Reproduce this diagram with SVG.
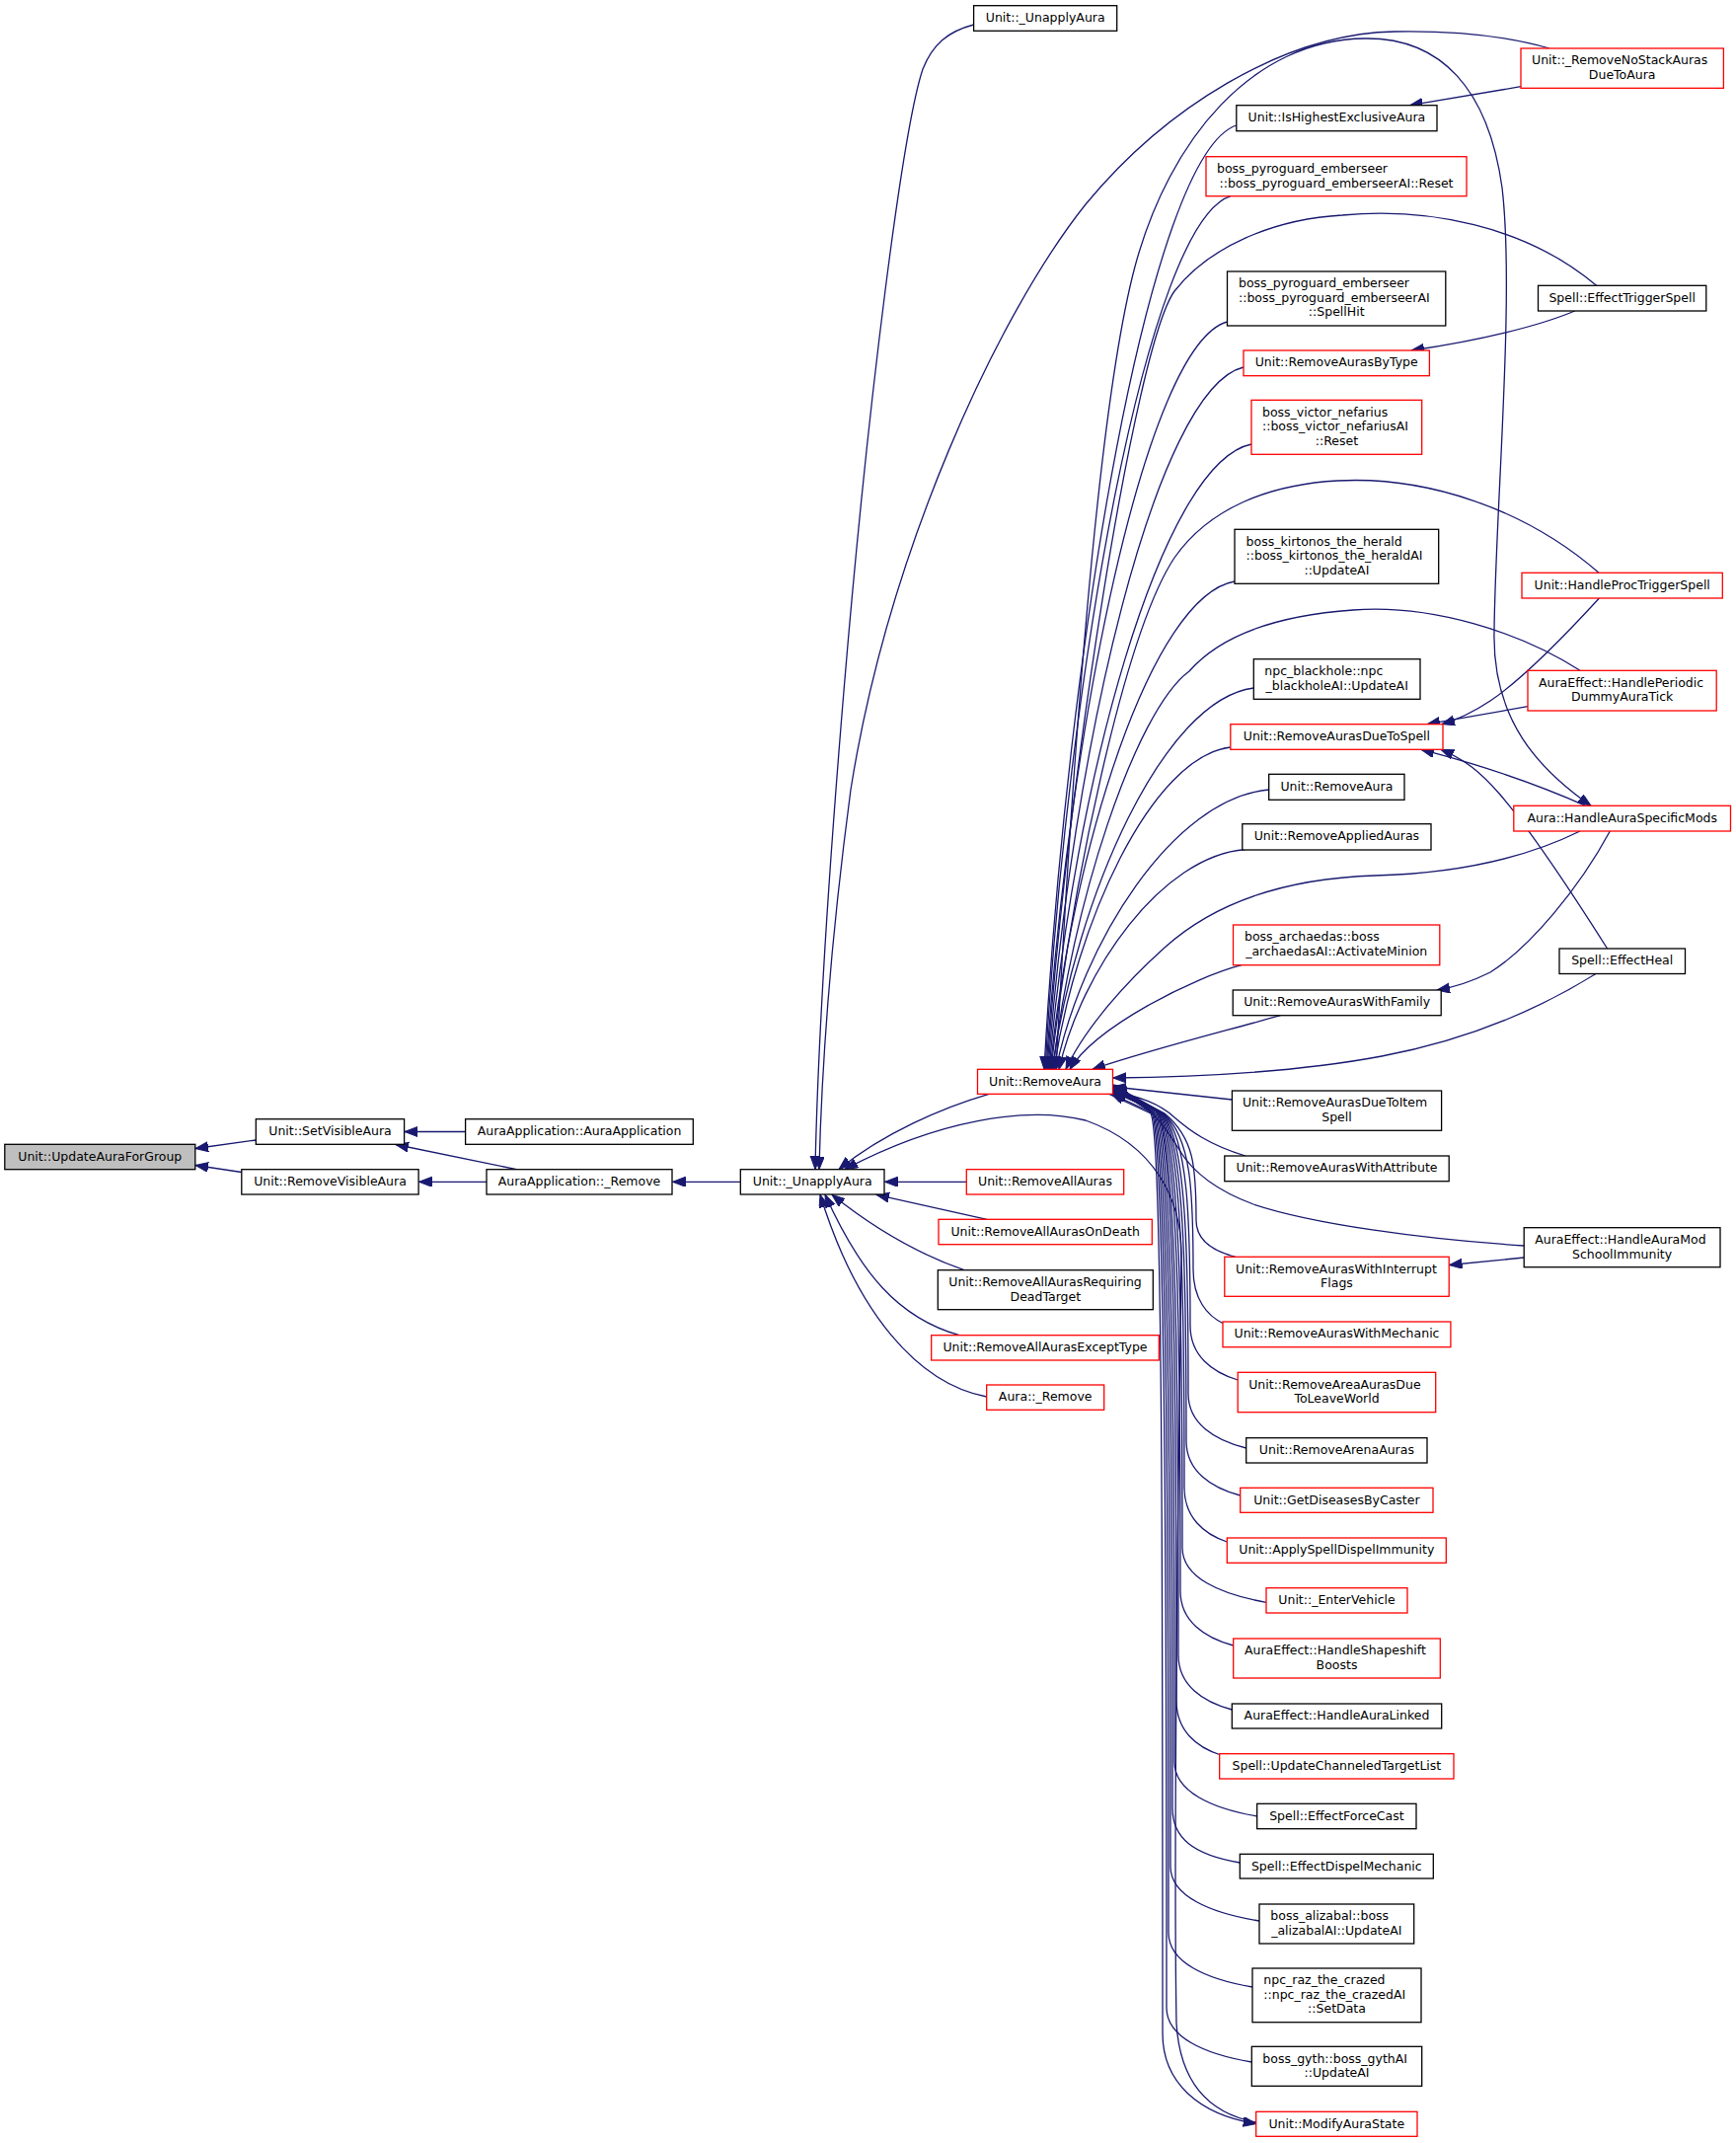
<svg xmlns="http://www.w3.org/2000/svg" width="1759" height="2171" viewBox="0 0 1759 2171">
<style>
.n rect{fill:#fff;stroke:#000;stroke-width:1.3}
.n.r rect{stroke:#f00}
.n.g rect{fill:#bfbfbf}
text{font-family:"DejaVu Sans","Liberation Sans",sans-serif;font-size:12.5px;fill:#000}
.c{text-anchor:middle}
#edges path{fill:none;stroke:#191970;stroke-width:1.3;marker-end:url(#a)}
</style>
<defs>
<marker id="a" markerUnits="userSpaceOnUse" markerWidth="14" markerHeight="11" refX="13" refY="5" orient="auto">
<path d="M0,0 L13,5 L0,10 Z" fill="#191970" stroke="#191970" stroke-width="1"/>
</marker>
</defs>
<rect width="1759" height="2171" fill="#fff"/>
<g id="edges">
<path d="M259.3,1155 L198,1163.5"/>
<path d="M244.8,1187.5 L198,1180.5"/>
<path d="M471.6,1146.5 L410,1146.5"/>
<path d="M523.5,1184.7 L401,1159.5"/>
<path d="M493,1197.3 L424.5,1197.3"/>
<path d="M750.3,1197.3 L681.5,1197.3"/>
<path d="M986.6,25 C960,32 945,45 935,70 C915,130 880,400 855,700 C840,880 829,1040 826,1184.5"/>
<path d="M1570,49 C1525,36 1470,31 1413,32 C1300,34 1180,110 1100,207 C1010,320 900,560 862,800 C846,920 833,1060 830,1184.5"/>
<path d="M1002,1108.3 C955,1122 895,1148 850,1184.5"/>
<path d="M1272.7,2150 C1230,2142 1196,2115 1192,2050 C1188,1800 1196,1400 1197,1270 C1197,1215 1170,1160 1100,1135 C1040,1120 950,1135 856,1184.5"/>
<path d="M979.3,1197.3 L896.5,1197.3"/>
<path d="M1000,1235.3 L888,1210.3"/>
<path d="M977,1286.7 C935,1272 890,1248 843,1210.3"/>
<path d="M972,1352.7 C910,1335 872,1290 836,1210.3"/>
<path d="M999.7,1415 C930,1402 868,1330 831,1210.3"/>
<path d="M1252.8,127 C1165.1,155.7 1081.4,653 1058,1083.3"/>
<path d="M1247,198.7 C1162.4,225.2 1081.6,685.3 1059,1083.3"/>
<path d="M1243.5,326 C1160.9,348.7 1082,742.5 1060,1083.3"/>
<path d="M1617.6,289.3 C1545,228 1445,210 1360,218 C1290,222 1225,250 1190,295 C1150,350 1080,800 1061,1083.3"/>
<path d="M1260,372 C1170.9,393.3 1085.8,763.3 1062,1083.3"/>
<path d="M1268,450 C1175.8,469 1087.6,798.3 1063,1083.3"/>
<path d="M1251,589 C1166.9,603.8 1086.4,860.9 1064,1083.3"/>
<path d="M1620,580.3 C1545,515 1445,482 1355,487 C1285,491 1225,515 1190,565 C1140,640 1085,900 1065,1083.3"/>
<path d="M1270.3,697 C1178.4,708.6 1090.5,909.5 1066,1083.3"/>
<path d="M1601,679.3 C1540,640 1450,612 1371,618 C1300,623 1240,640 1205,680 C1150,720 1085,920 1067,1083.3"/>
<path d="M1246.8,757 C1166.3,766.8 1089.5,936.5 1068,1083.3"/>
<path d="M1285.7,800 C1188.6,808.5 1095.9,955.8 1070,1083.3"/>
<path d="M1262,860.5 C1177,867.2 1095.7,983 1073,1083.3"/>
<path d="M1601,842 C1540,872 1470,885 1393,887 C1300,890 1230,915 1180,960 C1130,1005 1095,1050 1080,1083.3"/>
<path d="M1258,977.7 C1210,990 1110,1040 1084,1083.3"/>
<path d="M1297.5,1028.7 C1240,1045 1170,1062 1107,1083.3"/>
<path d="M1617,986.5 C1555,1025 1480,1055 1400,1070 C1320,1085 1220,1091 1128,1092"/>
<path d="M1544.2,1262 C1440,1255 1330,1240 1270,1220 C1235,1207 1210,1190 1195,1165 C1180,1140 1165,1117 1128,1107.5"/>
<path d="M1248.4,1114 L1128,1101"/>
<path d="M1262,1171 C1225,1160 1205,1145 1190,1132 C1175,1118 1155,1111 1128,1106"/>
<path d="M1541,87.7 L1428.5,106.7"/>
<path d="M1595.7,315 C1560,330 1500,345 1430,355"/>
<path d="M1620.4,606 C1580,650 1540,690 1510,710 C1495,720 1480,728 1461,733.7"/>
<path d="M1548,715.7 L1446,733.7"/>
<path d="M1606.7,816.3 C1570,800 1520,780 1440,759.3"/>
<path d="M1628.6,961 C1590,900 1550,840 1520,805 C1500,782 1485,770 1460,759.3"/>
<path d="M1631.3,842 C1600,900 1550,960 1510,985 C1490,995 1475,1000 1456,1003"/>
<path d="M1544.2,1274 L1468.5,1281.5"/>
<path d="M1070,1083.3 C1085,800 1110,420 1150,270 C1185,140 1270,40 1383,39 C1460,38 1508,90 1522,190 C1535,300 1515,520 1514,640 C1512,730 1560,780 1612,816.3"/>
<path d="M1252,1273.3 C1230,1267.8 1212,1256.6 1212,1236.3 C1212,1182 1210,1153 1180,1128 L1129,1106"/>
<path d="M1240,1341 C1223,1333 1209,1316 1209,1286 C1209,1207 1207,1153 1179,1128 L1128,1105"/>
<path d="M1254.2,1398 C1227.7,1390 1206,1373 1206,1343 C1206,1235 1204,1153 1178,1127 L1128,1104"/>
<path d="M1262.7,1467 C1230.4,1459 1204,1442 1204,1412 C1204,1270 1202,1152 1177,1127 L1128,1103"/>
<path d="M1256.7,1515 C1226.6,1507 1202,1490 1202,1460 C1202,1294 1200,1152 1176,1126 L1128,1102"/>
<path d="M1243.3,1562 C1219.5,1554 1200,1537 1200,1507 C1200,1317 1198,1151 1175,1126 L1128,1101"/>
<path d="M1283,1623.3 C1236,1615 1198,1598 1198,1568 C1198,1347 1196,1151 1174,1125 L1128,1100"/>
<path d="M1249.7,1667 C1220,1659 1196,1642 1196,1612 C1196,1369 1194,1150 1173,1125 L1128,1100"/>
<path d="M1248.3,1732 C1218.4,1724 1194,1707 1194,1677 C1194,1401 1192,1150 1172,1124 L1128,1099"/>
<path d="M1237,1778 C1212,1770 1192,1753 1192,1723 C1192,1424 1190,1150 1172,1126 L1128,1106"/>
<path d="M1273.7,1840 C1227.7,1832 1190,1815 1190,1785 C1190,1456 1188,1150 1171,1126 L1128,1105"/>
<path d="M1256.3,1887 C1209,1879 1188,1862 1188,1832 C1188,1479 1186,1150 1170,1127 L1128,1104"/>
<path d="M1276,1946 C1226.5,1938 1186,1921 1186,1891 C1186,1509 1184,1151 1169,1127 L1128,1103"/>
<path d="M1269,2013 C1222,2005 1184,1988 1184,1958 C1184,1542 1182,1151 1168,1127 L1128,1102"/>
<path d="M1268.3,2089 C1220.8,2081 1182,2064 1182,2034 C1182,1580 1180,1151 1167,1127 L1126,1108"/>
<path d="M1124,1108.3 L1166,1128 C1178,1150 1178,1600 1178,2060 C1178,2110 1215,2142 1272.7,2151.5"/>
</g>
<g id="n0" class="n g"><rect x="4.8" y="1159.3" width="193" height="25.4"/><text class="c" x="101.3" y="1175.8">Unit::UpdateAuraForGroup</text></g>
<g id="n1" class="n"><rect x="259.3" y="1133.7" width="150.3" height="25.6"/><text class="c" x="334.5" y="1150.1">Unit::SetVisibleAura</text></g>
<g id="n2" class="n"><rect x="471.6" y="1133.7" width="230.7" height="25.6"/><text class="c" x="587" y="1150.1">AuraApplication::AuraApplication</text></g>
<g id="n3" class="n"><rect x="244.8" y="1184.7" width="179.3" height="25.3"/><text class="c" x="334.5" y="1201.1">Unit::RemoveVisibleAura</text></g>
<g id="n4" class="n"><rect x="493" y="1184.7" width="188" height="25.3"/><text class="c" x="587" y="1201.1">AuraApplication::_Remove</text></g>
<g id="n5" class="n"><rect x="750.3" y="1184.7" width="145.7" height="25.3"/><text class="c" x="823.2" y="1201.1">Unit::_UnapplyAura</text></g>
<g id="n6" class="n"><rect x="986.6" y="5.7" width="145.1" height="25.6"/><text class="c" x="1059.2" y="22.1">Unit::_UnapplyAura</text></g>
<g id="n7" class="n r"><rect x="990.5" y="1083.3" width="137" height="25"/><text class="c" x="1059" y="1099.7">Unit::RemoveAura</text></g>
<g id="n8" class="n r"><rect x="979.3" y="1184.7" width="159.4" height="25.3"/><text class="c" x="1059" y="1201.1">Unit::RemoveAllAuras</text></g>
<g id="n9" class="n r"><rect x="951" y="1235.3" width="216.3" height="25.4"/><text class="c" x="1059.2" y="1251.7">Unit::RemoveAllAurasOnDeath</text></g>
<g id="n10" class="n"><rect x="950.3" y="1286.7" width="218" height="40"/><text x="961.3" y="1303.1">Unit::RemoveAllAurasRequiring</text><text class="c" x="1059.3" y="1317.6">DeadTarget</text></g>
<g id="n11" class="n r"><rect x="943.7" y="1352.7" width="230.6" height="25.3"/><text class="c" x="1059" y="1369.1">Unit::RemoveAllAurasExceptType</text></g>
<g id="n12" class="n r"><rect x="999.7" y="1403" width="119" height="25.3"/><text class="c" x="1059.2" y="1419.4">Aura::_Remove</text></g>
<g id="n13" class="n r"><rect x="1541" y="49" width="205.4" height="40.3"/><text x="1552" y="65.4">Unit::_RemoveNoStackAuras</text><text class="c" x="1643.7" y="79.9">DueToAura</text></g>
<g id="n14" class="n"><rect x="1252.8" y="106.7" width="203.2" height="26"/><text class="c" x="1354.4" y="123.1">Unit::IsHighestExclusiveAura</text></g>
<g id="n15" class="n r"><rect x="1222" y="158.7" width="264" height="40"/><text x="1233" y="175.1">boss_pyroguard_emberseer</text><text class="c" x="1354" y="189.6">::boss_pyroguard_emberseerAI::Reset</text></g>
<g id="n16" class="n"><rect x="1243.5" y="275" width="221.3" height="55"/><text x="1255" y="291.4">boss_pyroguard_emberseer</text><text x="1255" y="305.9">::boss_pyroguard_emberseerAI</text><text class="c" x="1354.2" y="320.4">::SpellHit</text></g>
<g id="n17" class="n"><rect x="1558.5" y="289.3" width="170.3" height="25.7"/><text class="c" x="1643.7" y="305.7">Spell::EffectTriggerSpell</text></g>
<g id="n18" class="n r"><rect x="1260" y="355" width="188.4" height="25.7"/><text class="c" x="1354.2" y="371.4">Unit::RemoveAurasByType</text></g>
<g id="n19" class="n r"><rect x="1268" y="405.3" width="172.7" height="55"/><text x="1279" y="421.7">boss_victor_nefarius</text><text x="1279" y="436.2">::boss_victor_nefariusAI</text><text class="c" x="1354.4" y="450.7">::Reset</text></g>
<g id="n20" class="n"><rect x="1251" y="536.3" width="206.7" height="55"/><text x="1262.6" y="552.7">boss_kirtonos_the_herald</text><text x="1262.6" y="567.2">::boss_kirtonos_the_heraldAI</text><text class="c" x="1354.4" y="581.7">::UpdateAI</text></g>
<g id="n21" class="n r"><rect x="1542" y="580.3" width="203.3" height="25.7"/><text class="c" x="1643.7" y="596.7">Unit::HandleProcTriggerSpell</text></g>
<g id="n22" class="n r"><rect x="1548" y="679.3" width="191.2" height="40.7"/><text x="1559" y="695.7">AuraEffect::HandlePeriodic</text><text class="c" x="1643.6" y="710.2">DummyAuraTick</text></g>
<g id="n23" class="n"><rect x="1270.3" y="667.7" width="168.7" height="40.6"/><text x="1281.3" y="684.1">npc_blackhole::npc</text><text class="c" x="1354.7" y="698.6">_blackholeAI::UpdateAI</text></g>
<g id="n24" class="n r"><rect x="1246.8" y="733.7" width="215.2" height="25.6"/><text class="c" x="1354.4" y="750.1">Unit::RemoveAurasDueToSpell</text></g>
<g id="n25" class="n"><rect x="1285.7" y="784.3" width="137.3" height="26"/><text class="c" x="1354.4" y="800.7">Unit::RemoveAura</text></g>
<g id="n26" class="n"><rect x="1258.8" y="834.7" width="191.2" height="26.3"/><text class="c" x="1354.4" y="851.1">Unit::RemoveAppliedAuras</text></g>
<g id="n27" class="n r"><rect x="1533.8" y="816.3" width="219.7" height="25.7"/><text class="c" x="1643.7" y="832.7">Aura::HandleAuraSpecificMods</text></g>
<g id="n28" class="n r"><rect x="1249.5" y="937" width="209.3" height="40.7"/><text x="1261" y="953.4">boss_archaedas::boss</text><text class="c" x="1354.2" y="967.9">_archaedasAI::ActivateMinion</text></g>
<g id="n29" class="n"><rect x="1580" y="961" width="127.5" height="25.5"/><text class="c" x="1643.7" y="977.4">Spell::EffectHeal</text></g>
<g id="n30" class="n"><rect x="1249.2" y="1003" width="211" height="25.7"/><text class="c" x="1354.7" y="1019.4">Unit::RemoveAurasWithFamily</text></g>
<g id="n31" class="n"><rect x="1248.4" y="1105" width="212.2" height="40.3"/><text x="1258.9" y="1121.4">Unit::RemoveAurasDueToItem</text><text class="c" x="1354.5" y="1135.9">Spell</text></g>
<g id="n32" class="n"><rect x="1240.8" y="1171" width="227.4" height="25.7"/><text class="c" x="1354.5" y="1187.4">Unit::RemoveAurasWithAttribute</text></g>
<g id="n33" class="n"><rect x="1544.2" y="1243.7" width="198.8" height="40"/><text x="1555.2" y="1260.1">AuraEffect::HandleAuraMod</text><text class="c" x="1643.6" y="1274.6">SchoolImmunity</text></g>
<g id="n34" class="n r"><rect x="1240.8" y="1273.3" width="227.4" height="40"/><text x="1252" y="1289.7">Unit::RemoveAurasWithInterrupt</text><text class="c" x="1354.5" y="1304.2">Flags</text></g>
<g id="n35" class="n r"><rect x="1239" y="1339" width="230.9" height="25.7"/><text class="c" x="1354.5" y="1355.4">Unit::RemoveAurasWithMechanic</text></g>
<g id="n36" class="n r"><rect x="1254.2" y="1390.3" width="200.5" height="40.4"/><text x="1265.2" y="1406.7">Unit::RemoveAreaAurasDue</text><text class="c" x="1354.5" y="1421.2">ToLeaveWorld</text></g>
<g id="n37" class="n"><rect x="1262.7" y="1456.7" width="183.3" height="25.3"/><text class="c" x="1354.4" y="1473.1">Unit::RemoveArenaAuras</text></g>
<g id="n38" class="n r"><rect x="1256.7" y="1507.3" width="195.3" height="25"/><text class="c" x="1354.4" y="1523.7">Unit::GetDiseasesByCaster</text></g>
<g id="n39" class="n r"><rect x="1243.3" y="1558" width="222" height="25.3"/><text class="c" x="1354.3" y="1574.4">Unit::ApplySpellDispelImmunity</text></g>
<g id="n40" class="n r"><rect x="1283" y="1608.7" width="143" height="25.3"/><text class="c" x="1354.5" y="1625.1">Unit::_EnterVehicle</text></g>
<g id="n41" class="n r"><rect x="1249.7" y="1660" width="209.6" height="40"/><text x="1261" y="1676.4">AuraEffect::HandleShapeshift</text><text class="c" x="1354.5" y="1690.9">Boosts</text></g>
<g id="n42" class="n"><rect x="1248.3" y="1726" width="212.4" height="25"/><text class="c" x="1354.5" y="1742.4">AuraEffect::HandleAuraLinked</text></g>
<g id="n43" class="n r"><rect x="1235.7" y="1776.7" width="237.3" height="25.3"/><text class="c" x="1354.4" y="1793.1">Spell::UpdateChanneledTargetList</text></g>
<g id="n44" class="n"><rect x="1273.7" y="1827.3" width="161.3" height="25.4"/><text class="c" x="1354.4" y="1843.7">Spell::EffectForceCast</text></g>
<g id="n45" class="n"><rect x="1256.3" y="1878.3" width="196" height="24.7"/><text class="c" x="1354.3" y="1894.7">Spell::EffectDispelMechanic</text></g>
<g id="n46" class="n"><rect x="1276" y="1929" width="156.7" height="40"/><text x="1287.3" y="1945.4">boss_alizabal::boss</text><text class="c" x="1354.3" y="1959.9">_alizabalAI::UpdateAI</text></g>
<g id="n47" class="n"><rect x="1269" y="1994" width="171" height="54.7"/><text x="1280.3" y="2010.4">npc_raz_the_crazed</text><text x="1280.3" y="2024.9">::npc_raz_the_crazedAI</text><text class="c" x="1354.5" y="2039.4">::SetData</text></g>
<g id="n48" class="n"><rect x="1268.3" y="2073.3" width="172.4" height="40"/><text x="1279.3" y="2089.7">boss_gyth::boss_gythAI</text><text class="c" x="1354.5" y="2104.2">::UpdateAI</text></g>
<g id="n49" class="n r"><rect x="1272.7" y="2139.3" width="163.3" height="25"/><text class="c" x="1354.3" y="2155.7">Unit::ModifyAuraState</text></g>
</svg>
